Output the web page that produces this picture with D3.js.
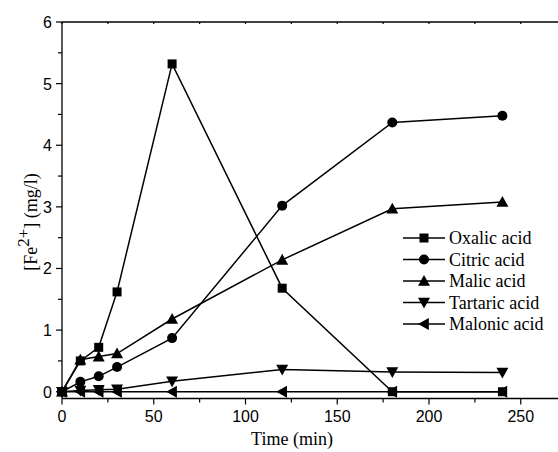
<!DOCTYPE html>
<html>
<head>
<meta charset="utf-8">
<script src="https://cdn.jsdelivr.net/npm/d3@7"></script>
<style>
  body { margin: 0; background: #fff; }
  svg { display: block; }
  .sans { font-family: "Liberation Sans", Arial, sans-serif; }
  .serif { font-family: "Liberation Serif", "Times New Roman", serif; }
</style>
</head>
<body>
<div id="chart"></div>
<script>
const width = 558
const height = 452

// sampling times (min)
const times = [0, 10, 20, 30, 60, 120, 180, 240]

const oxalic   = [0, 0.50, 0.72, 1.62, 5.32, 1.68, 0.00, 0.00]
const citric   = [0, 0.16, 0.25, 0.40, 0.87, 3.02, 4.37, 4.48]
const malic    = [0, 0.52, 0.57, 0.62, 1.18, 2.14, 2.97, 3.08]
const tartaric = [0, 0.02, 0.03, 0.04, 0.17, 0.36, 0.32, 0.31]
const malonic  = [0, 0.00, 0.00, 0.00, 0.00, 0.00, 0.00, 0.00]

const seriesNames = ["Oxalic acid", "Citric acid", "Malic acid", "Tartaric acid", "Malonic acid"]
const seriesValues = [oxalic, citric, malic, tartaric, malonic]
const seriesSymbols = ["square", "circle", "up", "down", "left"]

const xTicks = [0, 50, 100, 150, 200, 250]
const yTicks = [0, 1, 2, 3, 4, 5, 6]

const marginLeft = 62, marginTop = 22

const x = d3.scaleLinear().domain([0, 300]).range([marginLeft, marginLeft + 300 * 1.835])
const y = d3.scaleLinear().domain([-0.11, 6]).range([398.5, marginTop])

const svg = d3.select("#chart").append("svg")
  .attr("width", width)
  .attr("height", height)

// symbol drawing
function drawSymbol(g, kind, cx, cy) {
  if (kind === "square") {
    g.append("rect").attr("x", cx - 4.5).attr("y", cy - 4.5).attr("width", 9).attr("height", 9).attr("fill", "#000")
  } else if (kind === "circle") {
    g.append("circle").attr("cx", cx).attr("cy", cy).attr("r", 5).attr("fill", "#000")
  } else {
    const s = 6
    let pts
    if (kind === "up") pts = [[cx, cy - s], [cx - s, cy + s * 0.8], [cx + s, cy + s * 0.8]]
    else if (kind === "down") pts = [[cx, cy + s], [cx - s, cy - s * 0.8], [cx + s, cy - s * 0.8]]
    else pts = [[cx - s, cy], [cx + s * 0.8, cy - s], [cx + s * 0.8, cy + s]]
    g.append("path").attr("d", "M" + pts.map(p => p.join(",")).join("L") + "Z").attr("fill", "#000")
  }
}

// axes
const minorX = d3.range(0, 301, 25)
const minorY = d3.range(0, 6.01, 0.5)

const xAxis = svg.append("g").attr("transform", `translate(0,${y(-0.11)})`)
xAxis.append("line").attr("x1", marginLeft).attr("x2", width).attr("stroke", "#000").attr("stroke-width", 1.3)
xAxis.selectAll("line.tick").data(minorX).join("line")
  .attr("class", "tick")
  .attr("x1", d => x(d)).attr("x2", d => x(d))
  .attr("y1", 0).attr("y2", d => d % 50 === 0 ? 6 : 4)
  .attr("stroke", "#000").attr("stroke-width", 1.2)
xAxis.selectAll("text").data(xTicks).join("text")
  .attr("class", "sans")
  .attr("x", d => x(d)).attr("y", 23)
  .attr("text-anchor", "middle")
  .attr("font-size", 16)
  .text(d => d)

const topAxis = svg.append("g").attr("transform", `translate(0,${marginTop})`)
topAxis.append("line").attr("x1", marginLeft).attr("x2", width).attr("stroke", "#000").attr("stroke-width", 1.3)
topAxis.selectAll("line.tick").data(minorX).join("line")
  .attr("class", "tick")
  .attr("x1", d => x(d)).attr("x2", d => x(d))
  .attr("y1", 0).attr("y2", 2)
  .attr("stroke", "#000").attr("stroke-width", 1.2)

const yAxis = svg.append("g").attr("transform", `translate(${marginLeft},0)`)
yAxis.append("line").attr("y1", marginTop).attr("y2", y(-0.11)).attr("stroke", "#000").attr("stroke-width", 1.3)
yAxis.selectAll("line.tick").data(minorY).join("line")
  .attr("class", "tick")
  .attr("y1", d => y(d)).attr("y2", d => y(d))
  .attr("x1", 0).attr("x2", d => Number.isInteger(d) ? -6 : -4)
  .attr("stroke", "#000").attr("stroke-width", 1.2)
yAxis.selectAll("text").data(yTicks).join("text")
  .attr("class", "sans")
  .attr("x", -10).attr("y", d => y(d) + 6)
  .attr("text-anchor", "end")
  .attr("font-size", 16)
  .text(d => d)

// axis titles
svg.append("text")
  .attr("class", "serif")
  .attr("x", 292).attr("y", 445)
  .attr("text-anchor", "middle")
  .attr("font-size", 18)
  .text("Time (min)")

const yt = svg.append("text")
  .attr("class", "serif")
  .attr("transform", "translate(37,222) rotate(-90)")
  .attr("text-anchor", "middle")
  .attr("font-size", 18)
yt.append("tspan").text("[Fe")
yt.append("tspan").attr("dy", -8).attr("font-size", 17).text("2+")
yt.append("tspan").attr("dy", 8).text("] (mg/l)")

// series
const line = d3.line().x(d => x(d[0])).y(d => y(d[1]))
const plot = svg.append("g")

seriesValues.forEach((vals, i) => {
  const pts = times.map((t, j) => [t, vals[j]])
  plot.append("path")
    .attr("d", line(pts))
    .attr("fill", "none")
    .attr("stroke", "#000")
    .attr("stroke-width", 1.5)
})
seriesValues.forEach((vals, i) => {
  const g = plot.append("g")
  times.forEach((t, j) => drawSymbol(g, seriesSymbols[i], x(t), y(vals[j])))
})

// legend
const legend = svg.append("g")
seriesNames.forEach((name, i) => {
  const ly = 238 + i * 21.5
  legend.append("line")
    .attr("x1", 403).attr("x2", 445).attr("y1", ly).attr("y2", ly)
    .attr("stroke", "#000").attr("stroke-width", 1.5)
  drawSymbol(legend, seriesSymbols[i], 424, ly)
  legend.append("text")
    .attr("class", "serif")
    .attr("x", 449).attr("y", ly + 6)
    .attr("font-size", 18)
    .text(name)
})
</script>
</body>
</html>
